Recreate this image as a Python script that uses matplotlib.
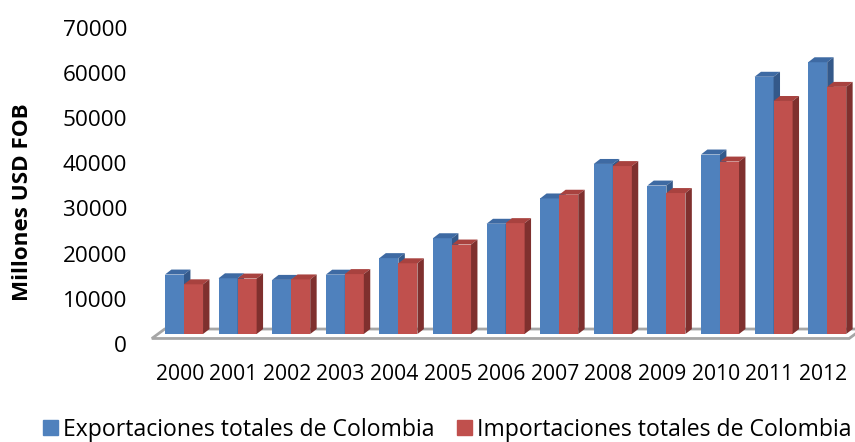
import matplotlib
matplotlib.use("Agg")
import matplotlib.pyplot as plt
import matplotlib.transforms as mtransforms
from matplotlib.patches import Polygon, Patch
import numpy as np

plt.rcParams['font.family'] = ['Open Sans', 'DejaVu Sans']

# Millones USD FOB
years = ['2000', '2001', '2002', '2003', '2004', '2005', '2006',
         '2007', '2008', '2009', '2010', '2011', '2012']
exportaciones = [13158, 12330, 11975, 13129, 16788, 21190, 24391,
                 29991, 37626, 32846, 39713, 56915, 60125]
importaciones = [10998, 12269, 12077, 13258, 15649, 19799, 24534,
                 30816, 37155, 31188, 38154, 51556, 54675]
y_ticks = [0, 10000, 20000, 30000, 40000, 50000, 60000, 70000]
series_names = ['Exportaciones totales de Colombia',
                'Importaciones totales de Colombia']

# colours: front, top, side
blue = ('#4F81BD', '#3E6AA3', '#34598A')
red = ('#C0504D', '#A8423F', '#7F302E')

W, H = 855, 442
fig = plt.figure(figsize=(W / 100, H / 100), dpi=100)
ax = fig.add_axes([140 / W, (H - 342) / H, (855 - 140) / W, (342 - 14) / H])
ax.set_xlim(-0.821, 12.519)
ax.set_ylim(-1770, 70800)

x = np.arange(len(years))
w = 0.355   # width of one bar
dx = 0.12   # depth offset, x
dy = 1100   # depth offset, y

# floor
fl, fr = x[0] - 0.6, x[-1] + 0.41
floor = Polygon([(fl, -0.9 * dy), (fr, -0.9 * dy), (fr + 2 * dx, dy),
                 (fl + 2 * dx, dy)], closed=True, fc='white',
                ec='#A6A6A6', lw=2, zorder=0, clip_on=False)
ax.add_patch(floor)


def faces(x0, h, cols, z):
    # top and right-hand side of a bar, drawn from its value
    top = Polygon([(x0, h), (x0 + dx, h + dy), (x0 + w + dx, h + dy),
                   (x0 + w, h)], closed=True, fc=cols[1], ec='none', zorder=z)
    side = Polygon([(x0 + w, 0), (x0 + w + dx, dy), (x0 + w + dx, h + dy),
                    (x0 + w, h)], closed=True, fc=cols[2], ec='none', zorder=z)
    ax.add_patch(top)
    ax.add_patch(side)


ax.bar(x - w, exportaciones, width=w, align='edge', color=blue[0], zorder=1)
for xi, v in zip(x, exportaciones):
    faces(xi - w, v, blue, 2)
ax.bar(x, importaciones, width=w, align='edge', color=red[0], zorder=3)
for xi, v in zip(x, importaciones):
    faces(xi, v, red, 4)

for s in ax.spines.values():
    s.set_visible(False)

ax.set_yticks(y_ticks)
ax.set_yticklabels([str(t) for t in y_ticks], fontsize=16.2)
ax.tick_params(axis='y', length=0, pad=9.4)
shift = mtransforms.ScaledTranslation(0, -10 / 100, fig.dpi_scale_trans)
for lab in ax.get_yticklabels():
    lab.set_transform(lab.get_transform() + shift)

ax.set_xticks(x - 0.08)
ax.set_xticklabels(years, fontsize=15.2)
ax.tick_params(axis='x', length=0, pad=15.5)

fig.text(22.5 / W, (H - 202) / H, 'Millones USD FOB', rotation=90,
         fontweight='bold', fontsize=16.2, ha='center', va='center')

handles = [Patch(color=blue[0]), Patch(color=red[0])]
fig.legend(handles, series_names, loc='center', bbox_to_anchor=(0.523, 0.028),
           ncol=2, frameon=False, fontsize=16.6, handlelength=0.65,
           handleheight=0.65, handletextpad=0.2, columnspacing=1.0)

fig.savefig('out.png', dpi=100)
